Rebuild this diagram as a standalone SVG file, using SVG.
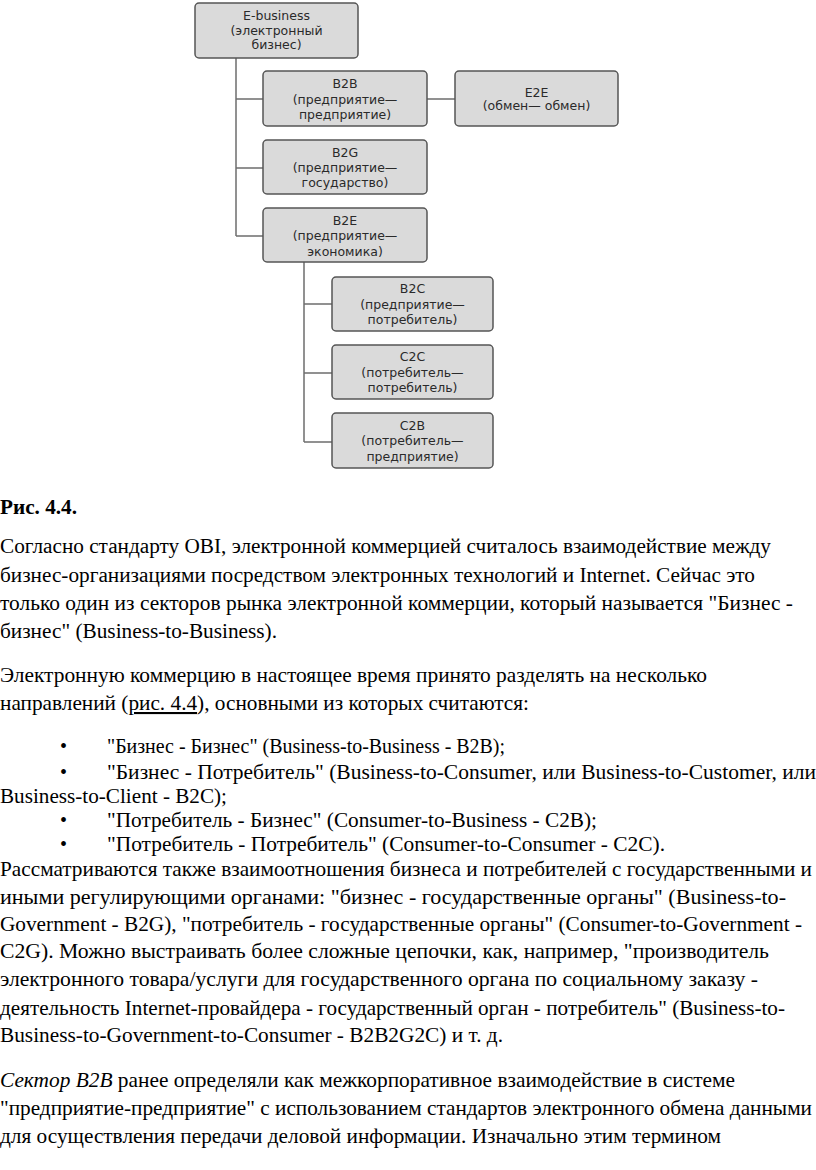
<svg xmlns="http://www.w3.org/2000/svg" width="816" height="1170" viewBox="0 0 816 1170">
<style>
.box{fill:#dadada;stroke:#555;stroke-width:1.5}
.bt{font-family:"DejaVu Sans",Verdana,sans-serif;font-size:12.5px;fill:#2a2a2a;text-anchor:middle}
.ln{fill:none;stroke:#6e6e6e;stroke-width:1.5}
.tx{font-family:"Liberation Serif","Times New Roman",serif;font-size:20px;fill:#000}
.tc{font-size:21px}
</style>
<rect width="816" height="1170" fill="#fff"/>
<g id="connectors">
<path class="ln" d="M236 58V236M236 99H263M236 168H263M236 236H263M427 99H455M304 262V442M304 304H332M304 373H332M304 442H332"/>
</g>
<g id="ebusiness"><rect class="box" x="195" y="3" width="163" height="55" rx="4"/>
<text class="bt" x="276.5" y="19.5">E-business</text><text class="bt" x="276.5" y="34.5">(электронный</text><text class="bt" x="276.5" y="48.5">бизнес)</text></g>
<g id="b2b"><rect class="box" x="263" y="71" width="164" height="55" rx="4"/>
<text class="bt" x="345" y="88">B2B</text><text class="bt" x="345" y="103.5">(предприятие—</text><text class="bt" x="345" y="118.5">предприятие)</text></g>
<g id="e2e"><rect class="box" x="455" y="71" width="163" height="55" rx="4"/>
<text class="bt" x="536.5" y="96.5">E2E</text><text class="bt" x="536.5" y="110">(обмен— обмен)</text></g>
<g id="b2g"><rect class="box" x="263" y="140" width="164" height="54" rx="4"/>
<text class="bt" x="345" y="156.5">B2G</text><text class="bt" x="345" y="172">(предприятие—</text><text class="bt" x="345" y="187">государство)</text></g>
<g id="b2e"><rect class="box" x="263" y="208" width="164" height="54" rx="4"/>
<text class="bt" x="345" y="224.5">B2E</text><text class="bt" x="345" y="240">(предприятие—</text><text class="bt" x="345" y="255.5">экономика)</text></g>
<g id="b2c"><rect class="box" x="332" y="277" width="161" height="54" rx="4"/>
<text class="bt" x="412.5" y="293">B2C</text><text class="bt" x="412.5" y="308.5">(предприятие—</text><text class="bt" x="412.5" y="324">потребитель)</text></g>
<g id="c2c"><rect class="box" x="332" y="345" width="161" height="54" rx="4"/>
<text class="bt" x="412.5" y="361">C2C</text><text class="bt" x="412.5" y="376.5">(потребитель—</text><text class="bt" x="412.5" y="392">потребитель)</text></g>
<g id="c2b"><rect class="box" x="332" y="413" width="161" height="55" rx="4"/>
<text class="bt" x="412.5" y="429.5">C2B</text><text class="bt" x="412.5" y="445">(потребитель—</text><text class="bt" x="412.5" y="460.5">предприятие)</text></g>
<g id="body" class="tx">
<text class="tx" x="0" y="514" font-weight="bold" textLength="77" lengthAdjust="spacingAndGlyphs">Рис. 4.4.</text>
<text class="tx" x="0" y="553" textLength="771" lengthAdjust="spacingAndGlyphs">Согласно стандарту OBI, электронной коммерцией считалось взаимодействие между</text>
<text class="tx" x="0" y="582" textLength="755" lengthAdjust="spacingAndGlyphs">бизнес-организациями посредством электронных технологий и Internet. Сейчас это</text>
<text class="tx" x="0" y="610" textLength="793" lengthAdjust="spacingAndGlyphs">только один из секторов рынка электронной коммерции, который называется "Бизнес -</text>
<text class="tx" x="0" y="638" textLength="277" lengthAdjust="spacingAndGlyphs">бизнес" (Business-to-Business).</text>
<text class="tx tc" x="0" y="682" textLength="707" lengthAdjust="spacingAndGlyphs">Электронную коммерцию в настоящее время принято разделять на несколько</text>
<text class="tx tc" x="0" y="710" textLength="529" lengthAdjust="spacingAndGlyphs">направлений (<tspan text-decoration="underline">рис. 4.4</tspan>), основными из которых считаются:</text>
<text class="tx" x="60" y="753">•</text>
<text class="tx tc" x="107" y="753" textLength="398" lengthAdjust="spacingAndGlyphs">"Бизнес - Бизнес" (Business-to-Business - B2B);</text>
<text class="tx" x="60" y="779">•</text>
<text class="tx tc" x="107" y="779" textLength="709" lengthAdjust="spacingAndGlyphs">"Бизнес - Потребитель" (Business-to-Consumer, или Business-to-Customer, или</text>
<text class="tx tc" x="0" y="803" textLength="227" lengthAdjust="spacingAndGlyphs">Business-to-Client - B2C);</text>
<text class="tx" x="60" y="827">•</text>
<text class="tx tc" x="107" y="827" textLength="490" lengthAdjust="spacingAndGlyphs">"Потребитель - Бизнес" (Consumer-to-Business - C2B);</text>
<text class="tx" x="60" y="851">•</text>
<text class="tx tc" x="107" y="851" textLength="558" lengthAdjust="spacingAndGlyphs">"Потребитель - Потребитель" (Consumer-to-Consumer - C2C).</text>
<text class="tx tc" x="0" y="876" textLength="812" lengthAdjust="spacingAndGlyphs">Рассматриваются также взаимоотношения бизнеса и потребителей с государственными и</text>
<text class="tx tc" x="0" y="904" textLength="786" lengthAdjust="spacingAndGlyphs">иными регулирующими органами: "бизнес - государственные органы" (Business-to-</text>
<text class="tx tc" x="0" y="931" textLength="802" lengthAdjust="spacingAndGlyphs">Government - B2G), "потребитель - государственные органы" (Consumer-to-Government -</text>
<text class="tx tc" x="0" y="958" textLength="769" lengthAdjust="spacingAndGlyphs">C2G). Можно выстраивать более сложные цепочки, как, например, "производитель</text>
<text class="tx tc" x="0" y="986" textLength="758" lengthAdjust="spacingAndGlyphs">электронного товара/услуги для государственного органа по социальному заказу -</text>
<text class="tx tc" x="0" y="1015" textLength="785" lengthAdjust="spacingAndGlyphs">деятельность Internet-провайдера - государственный орган - потребитель" (Business-to-</text>
<text class="tx tc" x="0" y="1042" textLength="503" lengthAdjust="spacingAndGlyphs">Business-to-Government-to-Consumer - B2B2G2C) и т. д.</text>
<text class="tx tc" x="0" y="1087" textLength="735" lengthAdjust="spacingAndGlyphs"><tspan font-style="italic">Сектор B2B</tspan> ранее определяли как межкорпоративное взаимодействие в системе</text>
<text class="tx tc" x="0" y="1115" textLength="812" lengthAdjust="spacingAndGlyphs">"предприятие-предприятие" с использованием стандартов электронного обмена данными</text>
<text class="tx tc" x="0" y="1143" textLength="721" lengthAdjust="spacingAndGlyphs">для осуществления передачи деловой информации. Изначально этим термином</text>
</g>
</svg>
